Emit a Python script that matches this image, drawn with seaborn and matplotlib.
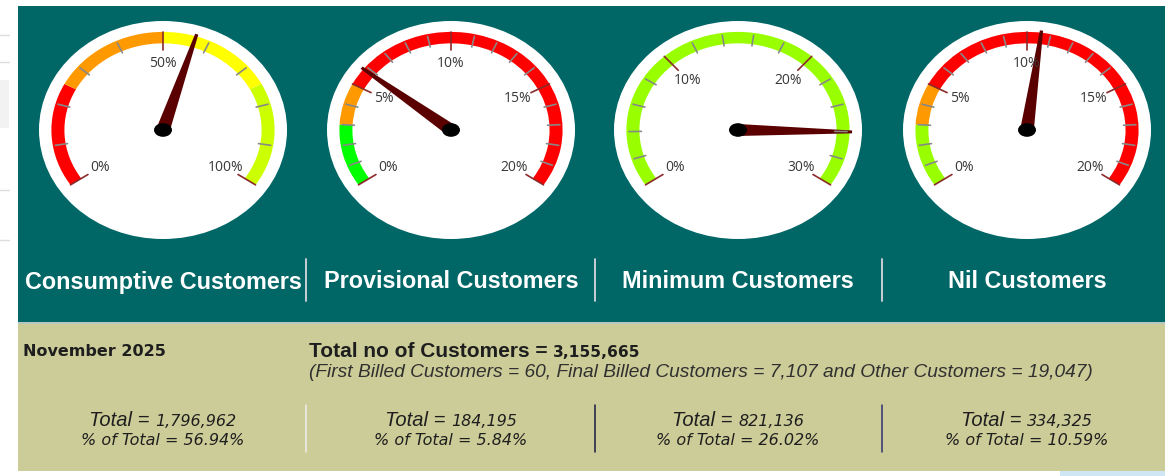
import numpy as np
import matplotlib
matplotlib.use("Agg")
import matplotlib.pyplot as plt
from matplotlib.patches import Rectangle, Ellipse, Wedge, Polygon
import seaborn as sns

# data
categories = ["Consumptive Customers", "Provisional Customers", "Minimum Customers", "Nil Customers"]
totals = [1796962, 184195, 821136, 334325]
pct_of_total = [56.94, 5.84, 26.02, 10.59]
scale_max = [100, 20, 30, 20]
major_step = [50, 5, 10, 5]
minor_step = [10, 1, 2, 1]
band_edges = [[0, 25, 50, 75, 100], [0, 3, 5, 20], [0, 30], [0, 3, 5, 20]]
band_colors = [["#FF0000", "#FF9900", "#FFFF00", "#CCFF00"],
               ["#00FF00", "#FF9900", "#FF0000"],
               ["#99FF00"],
               ["#99FF00", "#FF9900", "#FF0000"]]
report_month = "November 2025"
total_customers = 3155665
first_billed = 60
final_billed = 7107
other_customers = 19047

# layout (pixels)
W, H = 1165, 476
gauge_cx = [163, 451, 738, 1027]
gauge_cy = 130
RX, RY = 124, 109          # white dial half sizes
START, SWEEP = 214, 248    # degrees
TEAL = "#006666"
KHAKI = "#CCCC99"

sns.set_theme(style="white")
plt.rcParams["font.family"] = ["Liberation Sans", "DejaVu Sans"]

fig = plt.figure(figsize=(W / 100, H / 100), dpi=100)
bg = fig.add_axes([0, 0, 1, 1])
bg.set_xlim(0, W)
bg.set_ylim(H, 0)
bg.axis("off")

# panels
bg.add_patch(Rectangle((18, 6), W - 18, 316, fc=TEAL, ec="none"))
bg.add_patch(Rectangle((18, 322), W - 18, 1.5, fc="#b8c8c0", ec="none"))
bg.add_patch(Rectangle((18, 323.5), W - 18, 147, fc=KHAKI, ec="none"))
bg.add_patch(Rectangle((1060, 471), W - 1060, 5, fc="#cfe6f5", ec="none"))
bg.add_patch(Rectangle((0, 80), 9, 48, fc="#f2f2f2", ec="none"))
for yy in [35, 62, 190, 240]:
    bg.plot([0, 9], [yy, yy], color="#dddddd", lw=1)


def ang(v, vmax):
    return START - SWEEP * v / vmax


for i in range(4):
    vmax = scale_max[i]
    cx = gauge_cx[i]
    ax = fig.add_axes([(cx - 130) / W, 1 - (gauge_cy + 115) / H, 260 / W, 230 / H])
    ax.set_xlim(-130 / RX, 130 / RX)
    ax.set_ylim(-115 / RY, 115 / RY)
    ax.axis("off")
    ax.add_patch(Ellipse((0, 0), 2, 2, fc="white", ec="none"))

    edges = band_edges[i]
    for a, b, c in zip(edges[:-1], edges[1:], band_colors[i]):
        ax.add_patch(Wedge((0, 0), 0.90, ang(b, vmax), ang(a, vmax), width=0.105, fc=c, ec="none"))

    # ticks
    for v in np.arange(0, vmax + 1e-9, minor_step[i]):
        t = np.radians(ang(v, vmax))
        c, s = np.cos(t), np.sin(t)
        if abs(v / major_step[i] - round(v / major_step[i])) < 1e-9:
            ax.plot([0.73 * c, 0.90 * c], [0.73 * s, 0.90 * s], color="#8B2A2A", lw=1.2)
            ax.text(0.61 * c, 0.61 * s, f"{int(v)}%", ha="center", va="center",
                    fontsize=10, color="#383838", family=["Open Sans", "DejaVu Sans"])
        else:
            ax.plot([0.78 * c, 0.88 * c], [0.78 * s, 0.88 * s], color="#888888", lw=1.2)

    # needle
    t = np.radians(ang(pct_of_total[i], vmax))
    d = np.array([np.cos(t), np.sin(t)])
    p = np.array([-np.sin(t), np.cos(t)])
    pts = [0.055 * p, 0.92 * d + 0.013 * p, 0.92 * d - 0.013 * p, -0.055 * p]
    ax.add_patch(Polygon(pts, closed=True, fc="#5A0000", ec="none"))
    ax.add_patch(Ellipse((0, 0), 0.145, 0.125, fc="black", ec="none"))
    sns.despine(ax=ax, left=True, bottom=True)

# category labels and separators
for i, name in enumerate(categories):
    bg.text(gauge_cx[i], 282, name, ha="center", va="center", color="white",
            fontsize=16.8, fontweight="bold")
for sx in [306, 595, 882]:
    bg.plot([sx, sx], [259, 301], color="#d8d8e0", lw=1.3)
sep_cols = ["#eeeeee", "#1a1a40", "#303070"]
for sx, col in zip([306, 595, 882], sep_cols):
    bg.plot([sx, sx], [405, 452], color=col, lw=1.1)

renderer = fig.canvas.get_renderer()


def pieces(x, y, parts, align="center"):
    items = []
    for s, kw in parts:
        tx = bg.text(0, y, s, ha="left", va="baseline", **kw)
        items.append((tx, tx.get_window_extent(renderer=renderer).width))
    total = sum(w for _, w in items)
    pos = x - total / 2 if align == "center" else x
    for tx, w in items:
        tx.set_x(pos)
        pos += w


dark = "#1e1e1e"
verdana = ["DejaVu Sans"]
bg.text(23, 356, report_month, ha="left", va="baseline", fontsize=11.5,
        fontweight="bold", color=dark, family=verdana)
pieces(309, 357, [("Total no of Customers = ", dict(fontsize=15, fontweight="bold", color=dark)),
                  (f"{total_customers:,}", dict(fontsize=11.2, fontweight="bold", color=dark, family=verdana))],
       align="left")
bg.text(309, 377, f"(First Billed Customers = {first_billed}, Final Billed Customers = {final_billed:,} "
                  f"and Other Customers = {other_customers:,})",
        ha="left", va="baseline", fontsize=13.8, style="italic", color="#303030")

for i in range(4):
    pieces(gauge_cx[i], 426, [("Total = ", dict(fontsize=14.5, style="italic", color=dark)),
                              (f"{totals[i]:,}", dict(fontsize=11.5, style="italic", color=dark, family=verdana))])
    pieces(gauge_cx[i], 445, [(f"% of Total = {pct_of_total[i]:.2f}%",
                               dict(fontsize=11.5, style="italic", color=dark, family=verdana))])

fig.savefig("out.png", dpi=100)
